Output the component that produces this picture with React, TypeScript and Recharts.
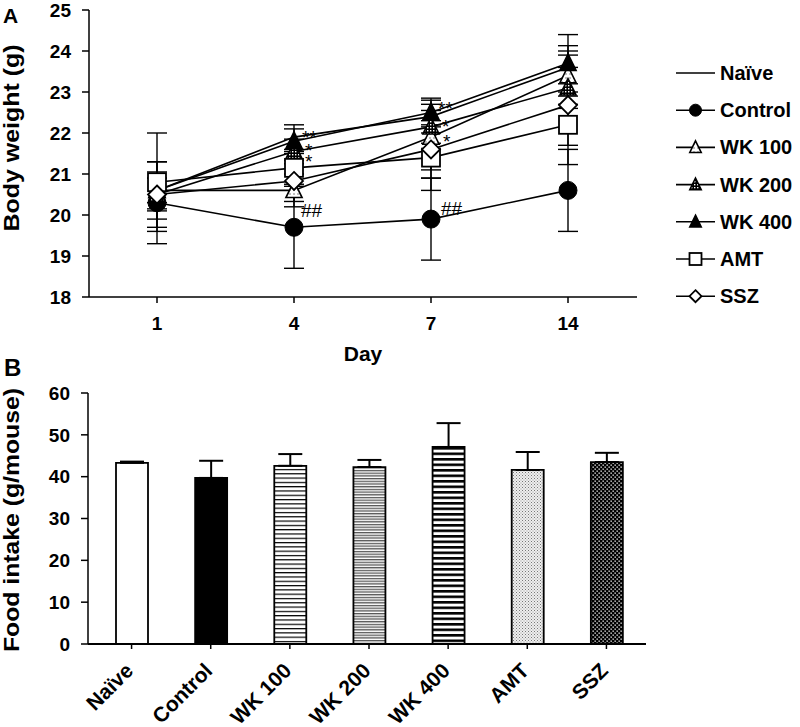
import {
  Bar,
  BarChart,
  Cell,
  ErrorBar,
  Legend,
  Line,
  LineChart,
  ReferenceDot,
  XAxis,
  YAxis,
} from 'recharts'

const FONT = '"Liberation Sans", Arial, sans-serif'

// Panel A: body weight over days
const days = ['1', '4', '7', '14']
const naive = [20.6, 21.9, 22.4, 23.6]
const naiveSd = [0.3, 0.3, 0.4, 0.4]
const control = [20.3, 19.7, 19.9, 20.6]
const controlSd = [1.0, 1.0, 1.0, 1.0]
const wk100 = [20.6, 20.6, 21.9, 23.4]
const wk100Sd = [0.45, 0.4, 0.8, 0.5]
const wk200 = [20.5, 21.55, 22.15, 23.1]
const wk200Sd = [0.4, 0.3, 0.4, 0.5]
const wk400 = [20.6, 21.8, 22.5, 23.7]
const wk400Sd = [0.7, 0.3, 0.35, 0.7]
const amt = [20.8, 21.15, 21.4, 22.2]
const amtSd = [1.2, 0.4, 0.8, 0.5]
const ssz = [20.5, 20.83, 21.6, 22.68]
const sszSd = [0.8, 0.5, 0.7, 1.45]

const weightTicks = [18, 19, 20, 21, 22, 23, 24, 25]

// significance marks: day, value, text
const markDays = ['4', '4', '4', '7', '7', '7', '4', '7']
const markValues = [21.9, 21.59, 21.32, 22.61, 22.17, 21.8, 20.12, 20.17]
const markTexts = ['**', '*', '*', '**', '*', '*', '##', '##']
const markOffsets = [8, 11, 11, 7, 11, 12, 7, 10]

// Panel B: food intake
const groups = ['Naïve', 'Control', 'WK 100', 'WK 200', 'WK 400', 'AMT', 'SSZ']
const intake = [43.3, 39.7, 42.6, 42.3, 47.1, 41.6, 43.5]
const intakeSd = [0.3, 4.1, 2.8, 1.7, 5.7, 4.3, 2.2]
const intakeTicks = [0, 10, 20, 30, 40, 50, 60]

const barFills = ['#fff', '#000', 'url(#stripeThin)', 'url(#stripeGray)', 'url(#stripeBold)', 'url(#dotsLight)', 'url(#dotsDark)']

const weightData = days.map((day, i) => ({
  day,
  naive: naive[i],
  naiveSd: naiveSd[i],
  control: control[i],
  controlSd: controlSd[i],
  wk100: wk100[i],
  wk100Sd: wk100Sd[i],
  wk200: wk200[i],
  wk200Sd: wk200Sd[i],
  wk400: wk400[i],
  wk400Sd: wk400Sd[i],
  amt: amt[i],
  amtSd: amtSd[i],
  ssz: ssz[i],
  sszSd: sszSd[i],
}))

const intakeData = groups.map((group, i) => ({
  group,
  intake: intake[i],
  intakeErr: [0, intakeSd[i]],
}))

const series = [
  { key: 'naive', name: 'Naïve', shape: 'none' },
  { key: 'control', name: 'Control', shape: 'circle' },
  { key: 'wk100', name: 'WK 100', shape: 'triDots' },
  { key: 'wk200', name: 'WK 200', shape: 'triGrid' },
  { key: 'wk400', name: 'WK 400', shape: 'triFill' },
  { key: 'amt', name: 'AMT', shape: 'square' },
  { key: 'ssz', name: 'SSZ', shape: 'diamond' },
]

function marker(shape: string, cx: number, cy: number, s: number, key?: string) {
  const h = s / 2
  if (shape === 'circle') {
    return <circle key={key} cx={cx} cy={cy} r={h} fill="#000" stroke="#000" />
  }
  if (shape === 'square') {
    return <rect key={key} x={cx - h} y={cy - h} width={s} height={s} fill="#fff" stroke="#000" strokeWidth={1.8} />
  }
  if (shape === 'diamond') {
    return (
      <polygon
        key={key}
        points={`${cx},${cy - h} ${cx + h},${cy} ${cx},${cy + h} ${cx - h},${cy}`}
        fill="#fff"
        stroke="#000"
        strokeWidth={1.8}
      />
    )
  }
  if (shape.startsWith('tri')) {
    const fill = shape === 'triFill' ? '#000' : `url(#${shape})`
    const w = s * 0.95
    return (
      <polygon
        key={key}
        points={`${cx},${cy - s * 0.55} ${cx + w / 2},${cy + s * 0.42} ${cx - w / 2},${cy + s * 0.42}`}
        fill={fill}
        stroke="#000"
        strokeWidth={1.6}
        strokeLinejoin="miter"
      />
    )
  }
  return <g key={key} />
}

function WeightLegend() {
  return (
    <svg width={128} height={262} style={{ display: 'block' }}>
      {series.map((s, i) => {
        const cy = 19 + i * 37.2
        return (
          <g key={s.key}>
            <line x1={4} x2={43} y1={cy} y2={cy} stroke="#000" strokeWidth={1.6} />
            {marker(s.shape, 23.5, cy, 12)}
            <text x={48} y={cy + 7} fontSize={20} fontWeight="bold" fontFamily={FONT} fill="#000">
              {s.name}
            </text>
          </g>
        )
      })}
    </svg>
  )
}

function WeightChart() {
  return (
    <div style={{ position: 'absolute', left: 0, top: 0 }}>
      <LineChart width={800} height={370} data={weightData} margin={{ top: 10, right: 163, bottom: 0, left: 29 }}>
        <defs>
          <pattern id="triDots" width="4" height="4" patternUnits="userSpaceOnUse">
            <rect width="4" height="4" fill="#fff" />
            <rect x="1.5" y="1.5" width="1" height="1" fill="#000" />
          </pattern>
          <pattern id="triGrid" width="3" height="3" patternUnits="userSpaceOnUse">
            <rect width="3" height="3" fill="#000" />
            <rect x="1" y="1" width="1.4" height="1.4" fill="#fff" />
          </pattern>
        </defs>
        <XAxis
          dataKey="day"
          height={73}
          padding={{ left: 68, right: 69 }}
          axisLine={{ stroke: '#000', strokeWidth: 1.5 }}
          tickLine={{ stroke: '#000', strokeWidth: 1.5 }}
          tickSize={6}
          tickMargin={14}
          tick={{ fill: '#000', fontSize: 19, fontWeight: 'bold', fontFamily: FONT }}
          label={{
            content: () => (
              <text x={363} y={361} textAnchor="middle" fontSize={21} fontWeight="bold" fontFamily={FONT} fill="#000">
                Day
              </text>
            ),
          }}
        />
        <YAxis
          width={60}
          domain={[18, 25]}
          ticks={weightTicks}
          interval={0}
          axisLine={{ stroke: '#000', strokeWidth: 1.5 }}
          tickLine={{ stroke: '#000', strokeWidth: 1.5 }}
          tickSize={7}
          tickMargin={11}
          tick={{ fill: '#000', fontSize: 19, fontWeight: 'bold', fontFamily: FONT }}
          label={{
            content: () => (
              <text
                x={19}
                y={138}
                transform="rotate(-90, 19, 138)"
                textAnchor="middle"
                fontSize={22}
                fontWeight="bold"
                fontFamily={FONT}
                fill="#000"
                textLength={187}
                lengthAdjust="spacingAndGlyphs"
              >
                Body weight (g)
              </text>
            ),
          }}
        />
        <Legend
          content={() => <WeightLegend />}
          layout="vertical"
          align="center"
          verticalAlign="middle"
          wrapperStyle={{ left: 672, top: 54, width: 128 }}
        />
        {series.map((s) => (
          <Line
            key={s.key}
            dataKey={s.key}
            name={s.name}
            stroke="#000"
            strokeWidth={1.6}
            isAnimationActive={false}
            activeDot={false}
            dot={
              s.shape === 'none'
                ? false
                : (p: any) => marker(s.shape, p.cx, p.cy, s.shape.startsWith('tri') ? 17 : 18, `${s.key}-${p.index}`)
            }
          >
            <ErrorBar dataKey={`${s.key}Sd`} width={10} stroke="#000" strokeWidth={1.4} direction="y" />
          </Line>
        ))}
        {markTexts.map((t, i) => (
          <ReferenceDot
            key={i}
            x={markDays[i]}
            y={markValues[i]}
            r={0}
            stroke="none"
            fill="none"
            label={{
              value: t,
              position: 'right',
              offset: markOffsets[i],
              fill: '#000',
              fontSize: 19,
              fontFamily: FONT,
            }}
          />
        ))}
      </LineChart>
    </div>
  )
}

function GroupTick(props: any) {
  const { x, y, payload } = props
  const px = x + 3
  const py = y + 21
  return (
    <text
      x={px}
      y={py}
      transform={`rotate(-45, ${px}, ${py})`}
      textAnchor="end"
      fontSize={21}
      fontWeight="bold"
      fontFamily={FONT}
      fill="#000"
    >
      {payload.value}
    </text>
  )
}

function IntakeChart() {
  return (
    <div style={{ position: 'absolute', left: 0, top: 370 }}>
      <BarChart width={800} height={357} data={intakeData} margin={{ top: 23, right: 154, bottom: 0, left: 28 }}>
        <defs>
          <pattern id="stripeThin" width="4" height="4.3" patternUnits="userSpaceOnUse">
            <rect width="4" height="4.3" fill="#fff" />
            <rect width="4" height="1.2" fill="#000" />
          </pattern>
          <pattern id="stripeGray" width="4" height="2.7" patternUnits="userSpaceOnUse">
            <rect width="4" height="2.7" fill="#fff" />
            <rect width="4" height="1.3" fill="#555" />
          </pattern>
          <pattern id="stripeBold" width="4" height="5.5" patternUnits="userSpaceOnUse">
            <rect width="4" height="5.5" fill="#fff" />
            <rect width="4" height="2.6" fill="#000" />
          </pattern>
          <pattern id="dotsLight" width="3" height="3" patternUnits="userSpaceOnUse">
            <rect width="3" height="3" fill="#eee" />
            <rect x="0" y="0" width="1" height="1" fill="#777" />
            <rect x="1.5" y="1.5" width="1" height="1" fill="#999" />
          </pattern>
          <pattern id="dotsDark" width="4" height="4" patternUnits="userSpaceOnUse">
            <rect width="4" height="4" fill="#000" />
            <rect x="0.5" y="0.5" width="1.3" height="1.3" fill="#fff" />
            <rect x="2.5" y="2.5" width="1.3" height="1.3" fill="#fff" />
          </pattern>
        </defs>
        <XAxis
          dataKey="group"
          height={83}
          interval={0}
          padding={{ left: 4, right: 0 }}
          axisLine={{ stroke: '#000', strokeWidth: 2 }}
          tickLine={{ stroke: '#000', strokeWidth: 1.5 }}
          tickSize={5}
          tickMargin={2}
          tick={<GroupTick />}
        />
        <YAxis
          width={60}
          domain={[0, 60]}
          ticks={intakeTicks}
          interval={0}
          axisLine={{ stroke: '#000', strokeWidth: 1.5 }}
          tickLine={{ stroke: '#000', strokeWidth: 1.5 }}
          tickSize={7}
          tickMargin={11}
          tick={{ fill: '#000', fontSize: 19, fontWeight: 'bold', fontFamily: FONT }}
          label={{
            content: () => (
              <text
                x={19}
                y={150}
                transform="rotate(-90, 19, 150)"
                textAnchor="middle"
                fontSize={22}
                fontWeight="bold"
                fontFamily={FONT}
                fill="#000"
                textLength={264}
                lengthAdjust="spacingAndGlyphs"
              >
                Food intake (g/mouse)
              </text>
            ),
          }}
        />
        <Bar dataKey="intake" barSize={32} stroke="#000" strokeWidth={1.8} isAnimationActive={false}>
          {groups.map((g, i) => (
            <Cell key={g} fill={barFills[i]} />
          ))}
          <ErrorBar dataKey="intakeErr" width={12} stroke="#000" strokeWidth={2} direction="y" />
        </Bar>
      </BarChart>
    </div>
  )
}

export default function App() {
  return (
    <div style={{ position: 'absolute', left: 0, top: 0, width: 800, height: 727, background: '#fff' }}>
      <svg width={800} height={727} style={{ position: 'absolute', left: 0, top: 0 }}>
        <text x={3} y={23} fontSize={21} fontWeight="bold" fontFamily={FONT} fill="#000">
          A
        </text>
        <text x={4} y={376} fontSize={24} fontWeight="bold" fontFamily={FONT} fill="#000">
          B
        </text>
      </svg>
      <WeightChart />
      <IntakeChart />
    </div>
  )
}
